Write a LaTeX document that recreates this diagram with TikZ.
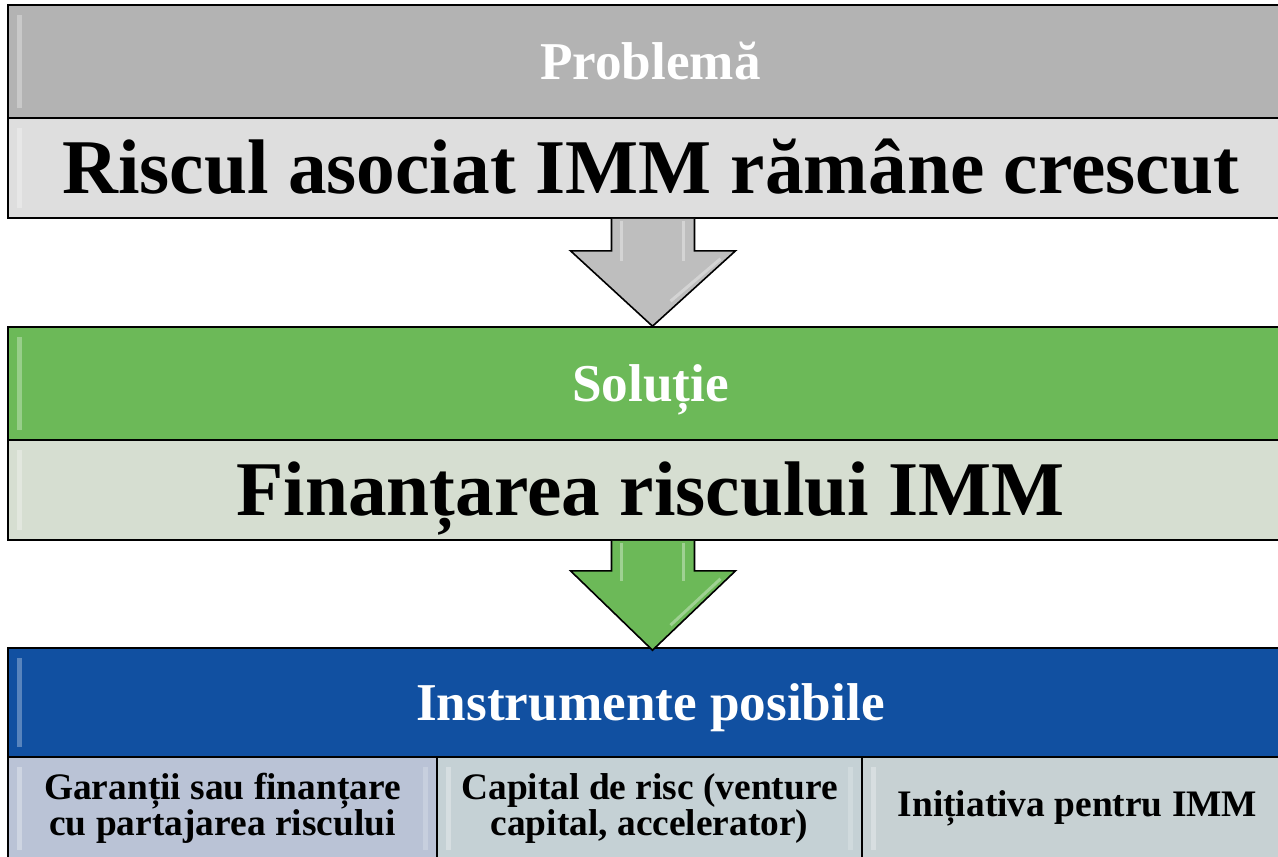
\documentclass[tikz,border=0pt]{standalone}
\usepackage{fontspec}
\setmainfont{Liberation Serif}
\usetikzlibrary{calc}
\definecolor{grayhead}{RGB}{179,179,179}
\definecolor{graybody}{RGB}{222,222,222}
\definecolor{greenhead}{RGB}{108,185,88}
\definecolor{greenbody}{RGB}{214,222,209}
\definecolor{bluehead}{RGB}{17,80,161}
\definecolor{cellA}{RGB}{186,195,214}
\definecolor{cellB}{RGB}{197,209,213}
\definecolor{cellC}{RGB}{199,209,211}
\definecolor{grayarrow}{RGB}{190,190,190}
\tikzset{
  box/.style={draw=black, line width=0.8pt, inner sep=0pt, align=center,
    path picture={
      \fill[white,opacity=0.3] ([xshift=4.5pt,yshift=-5pt]path picture bounding box.north west)
        rectangle ([xshift=7pt,yshift=5pt]path picture bounding box.south west);
      \fill[white,opacity=0.2] ([xshift=-4.5pt,yshift=-5pt]path picture bounding box.north east)
        rectangle ([xshift=-7pt,yshift=5pt]path picture bounding box.south east);}},
  head/.style={box, minimum width=642.5pt, minimum height=56.5pt, text=white,
    text height=17.6pt, text depth=0pt, font=\bfseries\fontsize{26.6}{30}\selectfont},
  body/.style={box, minimum width=642.5pt, minimum height=50pt,
    text height=25.6pt, text depth=0pt, font=\bfseries\fontsize{38.7}{44}\selectfont},
  cell/.style={box, minimum height=51.5pt, font=\bfseries\fontsize{18.7}{18}\selectfont},
  blockarrow/.style={draw=black, line width=0.8pt, line join=miter},
  shine/.style={white, opacity=0.35, line width=1.5pt}
}
\begin{document}
\begin{tikzpicture}[x=0.5pt,y=-0.5pt]
\clip (0,0) rectangle (1278,856);
\useasboundingbox (0,0) rectangle (1278,856);
\node[head, fill=grayhead](problema) at (650.5,61.5) {Problemă};
\node[body, fill=graybody](riscul) at (650.5,168) {Riscul asociat IMM rămâne crescut};
%
\node[head, fill=greenhead](solutie) at (650.5,383.5) {Soluție};
\node[body, fill=greenbody](finantare) at (650.5,490) {Finanțarea riscului IMM};
%
\node[head, fill=bluehead, minimum height=54.5pt](instrumente) at (650.5,702.5) {Instrumente posibile};
\node[cell, fill=cellA, minimum width=214.5pt](garantii) at (222.5,808.5) {Garanții sau finanțare\\cu partajarea riscului};
\node[cell, fill=cellB, minimum width=212.5pt](capital) at (649.5,808.5) {Capital de risc (venture\\capital, accelerator)};
\node[cell, fill=cellC, minimum width=215.5pt](initiativa) at (1077.5,808.5) {Inițiativa pentru IMM};
%
\filldraw[blockarrow, fill=grayarrow]
  ($(riscul.south)+(-39,0)$) -- ($(riscul.south)+(-39,32)$) -- ($(riscul.south)+(-80,32)$)
  -- ($(solutie.north)+(2,0)$) -- ($(riscul.south)+(85,32)$) -- ($(riscul.south)+(44,32)$)
  -- ($(riscul.south)+(44,0)$);
\draw[shine] ($(riscul.south)+(-29,2)$) -- ($(riscul.south)+(-29,42)$);
\draw[shine] ($(riscul.south)+(33,2)$) -- ($(riscul.south)+(33,42)$);
\draw[shine] ($(riscul.south)+(70,40)$) -- ($(solutie.north)+(20,-25)$);
%
\filldraw[blockarrow, fill=greenhead]
  ($(finantare.south)+(-39,0)$) -- ($(finantare.south)+(-39,30)$) -- ($(finantare.south)+(-80,30)$)
  -- ($(instrumente.north)+(2,3)$) -- ($(finantare.south)+(85,30)$) -- ($(finantare.south)+(44,30)$)
  -- ($(finantare.south)+(44,0)$);
\draw[shine] ($(finantare.south)+(-29,2)$) -- ($(finantare.south)+(-29,40)$);
\draw[shine] ($(finantare.south)+(33,2)$) -- ($(finantare.south)+(33,40)$);
\draw[shine] ($(finantare.south)+(70,38)$) -- ($(instrumente.north)+(20,-22)$);
\end{tikzpicture}
\end{document}
